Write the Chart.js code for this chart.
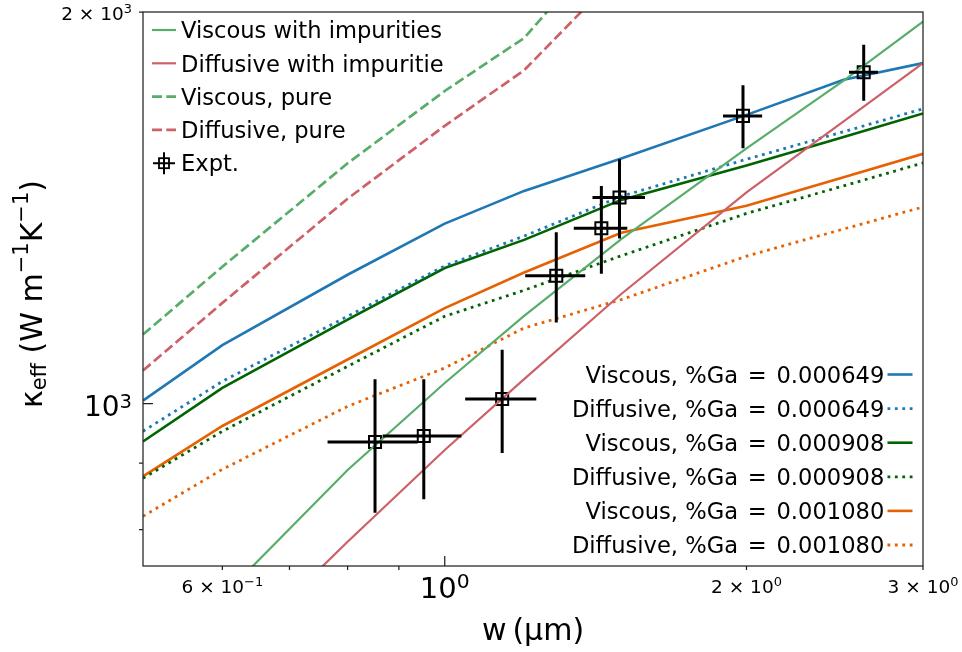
<!DOCTYPE html>
<html>
<head>
<meta charset="utf-8">
<script src="https://cdn.jsdelivr.net/npm/chart.js@4.4.1/dist/chart.umd.min.js"></script>
<style>
  html, body { margin: 0; padding: 0; background: #fff; }
</style>
</head>
<body>
<canvas id="chart" width="962" height="652"></canvas>
<script>
// model grid (w in um) and kappa_eff values
const widths = [0.5, 0.6, 0.8, 1.0, 1.2, 1.5, 2.0, 2.5, 3.0];
const viscous649 = [1005, 1109, 1256, 1375, 1457, 1543, 1667, 1774, 1827];
const diffusive649 = [952, 1040, 1167, 1276, 1345, 1443, 1541, 1618, 1685];
const viscous908 = [935, 1028, 1160, 1271, 1336, 1434, 1524, 1603, 1671];
const diffusive908 = [876, 952, 1068, 1167, 1222, 1299, 1400, 1470, 1531];
const viscous1080 = [879, 961, 1081, 1184, 1261, 1353, 1419, 1493, 1556];
const diffusive1080 = [819, 890, 995, 1065, 1143, 1202, 1298, 1362, 1416];
const viscousImp = [615, 710, 889, 1037, 1168, 1338, 1571, 1771, 1966];
const diffusiveImp = [549, 630, 783, 921, 1044, 1214, 1453, 1648, 1827];
const viscousPure = [1130, 1274, 1530, 1739, 1910, 2325, null, null, null];
const diffusivePure = [1060, 1195, 1437, 1635, 1804, 2151, null, null, null];

// experiment
const expW = [0.852, 0.953, 1.141, 1.292, 1.433, 1.494, 1.984, 2.618];
const expWErr = [0.088, 0.086, 0.093, 0.089, 0.088, 0.090, 0.089, 0.087];
const expK = [934, 944, 1008, 1254, 1364, 1440, 1664, 1798];
const expKErr = [110, 100, 92, 100, 106, 101, 93, 89];

// ticks ("^" marks the exponent)
const xTickValues = [0.6, 0.7, 0.8, 0.9, 1, 2, 3];
const xTickLabels = ['6 × 10^−1', '', '', '', '10^0', '2 × 10^0', '3 × 10^0'];
const yTickValues = [800, 900, 1000, 2000];
const yTickLabels = ['', '', '10^3', '2 × 10^3'];

const FONT = '"DejaVu Sans", sans-serif';
Chart.defaults.font.family = FONT;
Chart.defaults.color = '#000';

function series(label, values, color, width, dash, box) {
  const pts = [];
  widths.forEach((w, i) => { if (values[i] !== null) pts.push({ x: w, y: values[i] }); });
  return {
    label, data: pts, showLine: true, borderColor: color, backgroundColor: color,
    borderWidth: width, borderDash: dash, pointRadius: 0, tension: 0, fill: false,
    legendBox: box
  };
}

const datasets = [
  series('Viscous with impurities', viscousImp, '#58ad6b', 2.2, [], 'upper'),
  series('Diffusive with impuritie', diffusiveImp, '#cc6167', 2.2, [], 'upper'),
  series('Viscous, pure', viscousPure, '#58ad6b', 2.7, [10, 4.3], 'upper'),
  series('Diffusive, pure', diffusivePure, '#cc6167', 2.7, [10, 4.3], 'upper'),
  {
    label: 'Expt.', data: expW.map((w, i) => ({ x: w, y: expK[i] })),
    pointStyle: 'rect', pointRadius: 8.5, borderWidth: 2, borderColor: '#000',
    backgroundColor: 'rgba(0,0,0,0)', showLine: false, legendBox: 'upper', expt: true
  },
  series('Viscous, %Ga = 0.000649', viscous649, '#1f77b4', 2.6, [], 'lower'),
  series('Diffusive, %Ga = 0.000649', diffusive649, '#1f77b4', 2.8, [2.8, 4.6], 'lower'),
  series('Viscous, %Ga = 0.000908', viscous908, '#006400', 2.6, [], 'lower'),
  series('Diffusive, %Ga = 0.000908', diffusive908, '#006400', 2.8, [2.8, 4.6], 'lower'),
  series('Viscous, %Ga = 0.001080', viscous1080, '#e66101', 2.6, [], 'lower'),
  series('Diffusive, %Ga = 0.001080', diffusive1080, '#e66101', 2.8, [2.8, 4.6], 'lower')
];

// error bars for the experiment points
const errorBars = {
  id: 'errorBars',
  afterDatasetsDraw(chart) {
    const { ctx, scales: { x, y } } = chart;
    ctx.save();
    ctx.strokeStyle = '#000';
    ctx.lineWidth = 3;
    ctx.beginPath();
    expW.forEach((w, i) => {
      const px = x.getPixelForValue(w), py = y.getPixelForValue(expK[i]);
      ctx.moveTo(x.getPixelForValue(w - expWErr[i]), py);
      ctx.lineTo(x.getPixelForValue(w + expWErr[i]), py);
      ctx.moveTo(px, y.getPixelForValue(expK[i] - expKErr[i]));
      ctx.lineTo(px, y.getPixelForValue(expK[i] + expKErr[i]));
    });
    ctx.stroke();
    ctx.restore();
  }
};

// label like "2 × 10^3" with a raised, smaller exponent
function powerLabel(ctx, text, x, base, size, raise, align) {
  const [main, sup] = text.split('^');
  const supSize = size * 0.7;
  ctx.font = size + 'px ' + FONT;
  const w1 = ctx.measureText(main).width;
  ctx.font = supSize + 'px ' + FONT;
  const w2 = sup ? ctx.measureText(sup).width : 0;
  const total = w1 + w2;
  let x0 = align === 'center' ? x - total / 2 : align === 'right' ? x - total : x;
  ctx.textAlign = 'left';
  ctx.textBaseline = 'alphabetic';
  ctx.font = size + 'px ' + FONT;
  ctx.fillText(main, x0, base);
  if (sup) {
    ctx.font = supSize + 'px ' + FONT;
    ctx.fillText(sup, x0 + w1, base - raise);
  }
}

// right-aligned legend text with wider math-style gaps around "="
function mathLabel(ctx, text, xr, base) {
  const [left, right] = text.split(' = ');
  const gap = ctx.measureText(' ').width + 2.6;
  ctx.textAlign = 'right';
  ctx.fillText(right, xr, base);
  let x = xr - ctx.measureText(right).width - gap;
  ctx.fillText('=', x, base);
  x -= ctx.measureText('=').width + gap;
  ctx.fillText(left, x, base);
}

function handle(ctx, d, x0, x1, cy) {
  ctx.strokeStyle = d.borderColor;
  ctx.lineWidth = d.borderWidth;
  ctx.setLineDash(d.borderDash || []);
  ctx.beginPath();
  ctx.moveTo(x0, cy);
  ctx.lineTo(x1, cy);
  ctx.stroke();
  ctx.setLineDash([]);
}

// frame, tick marks and labels, axis titles, legends
const decorations = {
  id: 'decorations',
  afterDraw(chart) {
    const { ctx, chartArea: a, scales: { x, y } } = chart;
    ctx.save();
    ctx.strokeStyle = '#222';
    ctx.lineWidth = 1.25;
    ctx.strokeRect(a.left, a.top, a.right - a.left, a.bottom - a.top);
    ctx.beginPath();
    x.ticks.forEach(t => {
      const px = x.getPixelForValue(t.value);
      ctx.moveTo(px, a.bottom);
      ctx.lineTo(px, t.major ? a.bottom - 10 : a.bottom + 4);
    });
    y.ticks.forEach(t => {
      const py = y.getPixelForValue(t.value);
      ctx.moveTo(a.left, py);
      ctx.lineTo(t.major ? a.left + 10 : a.left - 4, py);
    });
    ctx.stroke();

    ctx.fillStyle = '#000';
    x.ticks.forEach((t, i) => {
      if (!xTickLabels[i]) return;
      const px = x.getPixelForValue(t.value);
      if (t.major) powerLabel(ctx, xTickLabels[i], px, a.bottom + 32, 29, 10, 'center');
      else powerLabel(ctx, xTickLabels[i], px, a.bottom + 27.3, 18.5, 7, 'center');
    });
    y.ticks.forEach((t, i) => {
      if (!yTickLabels[i]) return;
      const py = y.getPixelForValue(t.value);
      if (t.major) powerLabel(ctx, yTickLabels[i], a.left - 11, py + 12, 28, 8, 'right');
      else powerLabel(ctx, yTickLabels[i], a.left - 11, py + 8, 18.5, 7, 'right');
    });

    // x title
    ctx.font = '30px ' + FONT;
    ctx.textAlign = 'center';
    ctx.textBaseline = 'alphabetic';
    ctx.fillText('w\u2009(μm)', (a.left + a.right) / 2, 640);

    // y title with sub/superscripts
    const parts = [
      { t: 'κ', s: 30, dy: 0 }, { t: 'eff', s: 21, dy: 4 },
      { t: ' (W m', s: 30, dy: 0 }, { t: '−1', s: 21, dy: -14 },
      { t: 'K', s: 30, dy: 0 }, { t: '−1', s: 21, dy: -14 }, { t: ')', s: 30, dy: 0 }
    ];
    let total = 0;
    parts.forEach(p => { ctx.font = p.s + 'px ' + FONT; p.w = ctx.measureText(p.t).width; total += p.w; });
    ctx.save();
    ctx.translate(41.5, 294);
    ctx.rotate(-Math.PI / 2);
    ctx.textAlign = 'left';
    let cx = -total / 2;
    parts.forEach(p => { ctx.font = p.s + 'px ' + FONT; ctx.fillText(p.t, cx, p.dy); cx += p.w; });
    ctx.restore();

    // legends
    ctx.font = '22.6px ' + FONT;
    ctx.textBaseline = 'alphabetic';
    const upper = chart.data.datasets.filter(d => d.legendBox === 'upper');
    const lower = chart.data.datasets.filter(d => d.legendBox === 'lower');
    upper.forEach((d, i) => {
      const cy = a.top + 18 + i * 33.3;
      const x0 = a.left + 9, x1 = a.left + 33;
      if (d.expt) {
        const mx = (x0 + x1) / 2;
        ctx.strokeStyle = '#000';
        ctx.lineWidth = 2;
        ctx.setLineDash([]);
        ctx.beginPath();
        ctx.moveTo(mx - 11, cy); ctx.lineTo(mx + 11, cy);
        ctx.moveTo(mx, cy - 11); ctx.lineTo(mx, cy + 11);
        ctx.stroke();
        ctx.lineWidth = 1.8;
        ctx.strokeRect(mx - 5, cy - 5, 10, 10);
      } else {
        handle(ctx, d, x0, x1, cy);
      }
      ctx.fillStyle = '#000';
      ctx.textAlign = 'left';
      ctx.fillText(d.label, a.left + 38, cy + 8.2);
    });
    lower.forEach((d, i) => {
      const cy = a.bottom - 21 - (lower.length - 1 - i) * 34.1;
      handle(ctx, d, a.right - 35.5, a.right - 10.5, cy);
      ctx.fillStyle = '#000';
      mathLabel(ctx, d.label, a.right - 38.7, cy + 8.2);
    });
    ctx.restore();
  }
};

new Chart(document.getElementById('chart'), {
  type: 'scatter',
  data: { datasets },
  options: {
    responsive: false,
    animation: false,
    layout: { padding: { left: 0, right: 39, top: 12, bottom: 0 } },
    plugins: { legend: { display: false }, tooltip: { enabled: false } },
    scales: {
      x: {
        type: 'logarithmic', min: 0.5, max: 3,
        afterBuildTicks: s => { s.ticks = xTickValues.map(v => ({ value: v, major: v === 1 })); },
        afterFit: s => { s.height = 86; s.paddingLeft = 0; s.paddingRight = 0; },
        grid: { display: false, drawTicks: false },
        border: { display: false },
        ticks: { display: false, autoSkip: false }
      },
      y: {
        type: 'logarithmic', min: 750, max: 2000,
        afterBuildTicks: s => { s.ticks = yTickValues.map(v => ({ value: v, major: v === 1000 })); },
        afterFit: s => { s.width = 143; s.paddingTop = 0; s.paddingBottom = 0; },
        grid: { display: false, drawTicks: false },
        border: { display: false },
        ticks: { display: false, autoSkip: false }
      }
    }
  },
  plugins: [errorBars, decorations]
});
</script>
</body>
</html>
